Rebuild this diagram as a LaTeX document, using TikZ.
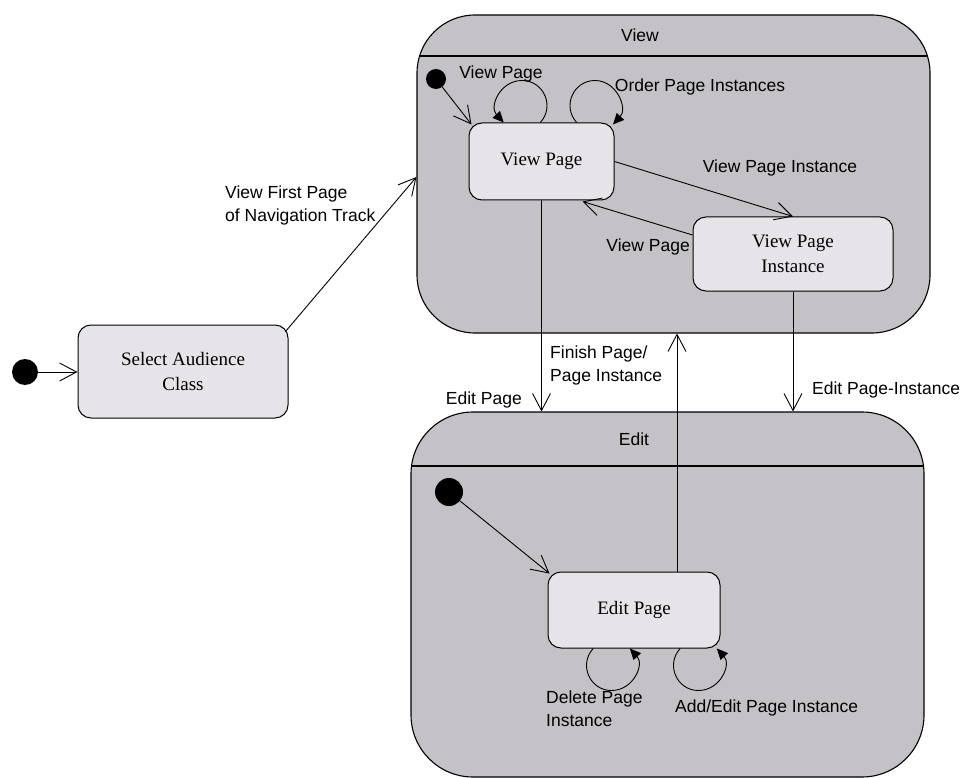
\documentclass[tikz,border=0pt]{standalone}
\usepackage{fontspec}
\setmainfont{Liberation Sans}
\newfontfamily\statefont{Liberation Serif}
\usetikzlibrary{arrows.meta,calc}
\definecolor{regionfill}{RGB}{196,194,198}
\definecolor{statefill}{RGB}{231,228,233}
\begin{document}
\begin{tikzpicture}[x=1pt,y=-1pt,
  region/.style={draw, line width=1.1pt, fill=regionfill, rounded corners=58pt, inner sep=0pt},
  stbox/.style={draw, line width=1pt, fill=statefill, rounded corners=13pt,
    font=\statefont\fontsize{19}{25}\selectfont, align=center, inner sep=0pt},
  initdot/.style={circle, fill=black, inner sep=0pt},
  trans/.style={line width=0.9pt, -{Straight Barb[length=17pt,width=18pt]}},
  selfloop/.style={line width=0.9pt, -{Triangle[length=11pt,width=10pt]}},
  lbl/.style={font=\fontsize{17.5}{23}\selectfont, inner sep=0pt, align=left},
  divider/.style={line width=1.1pt},
]
\useasboundingbox (0,0) rectangle (964,778);
\fill[white] (0,0) rectangle (964,778);

% composite states
\node[region, minimum width=513pt, minimum height=318pt] (viewst) at (673.5,174) {};
\node[region, minimum width=513pt, minimum height=365pt, rounded corners=62pt] (editst) at (667.5,594.5) {};
\draw[divider] ($(viewst.west |- 0,56)+(3,0)$) -- ($(viewst.east |- 0,56)+(-3,0)$);
\draw[divider] ($(editst.west |- 0,466)+(1,0)$) -- ($(editst.east |- 0,466)+(-1,0)$);
\node[lbl] (viewtitle) at (640,35) {View};
\node[lbl] (edittitle) at (634,439) {Edit};

% initial pseudo-states
\node[initdot, minimum size=26pt] (init0) at (25,372) {};
\node[initdot, minimum size=20pt] (initv) at (436,79) {};
\node[initdot, minimum size=28pt] (inite) at (449,492) {};

% simple states
\node[stbox, minimum width=210pt, minimum height=93pt] (sac) at (183,371.5) {Select Audience\\Class};
\node[stbox, minimum width=145pt, minimum height=77pt] (vp) at (541.5,161.5) {View Page};
\node[stbox, minimum width=200pt, minimum height=74pt] (vpi) at (793,254) {View Page\\Instance};
\node[stbox, minimum width=172pt, minimum height=76pt] (ep) at (634,610) {Edit Page};

% transitions outside the composite states
\draw[trans] (init0.east) -- (sac.west |- init0);
\draw[trans] ($(sac.north east)+(-3,7)$) -- ($(viewst.west)+(0,3)$);
\node[lbl, anchor=west] (lfirst) at (225,205) {View First Page\\of Navigation Track};

% inside View
\draw[trans] (initv) -- ($(vp.north west)+(3,2)$);

% self loops: two cubic pieces approximating a circle of radius 25
\coordinate (vpLoopAout) at ($(vp.north)+(-1.2,0)$);
\coordinate (vpLoopAtop) at ($(vp.north)+(-19.5,-42)$);
\coordinate (vpLoopAin) at ($(vp.north)+(-37.8,0)$);
\draw[selfloop] (vpLoopAout) .. controls +(14.8,-16) and +(21.8,0) .. (vpLoopAtop)
  .. controls +(-21.8,0) and +(-14.8,-16) .. (vpLoopAin);
\node[lbl] (lvp1) at (501,74) {View Page};

\coordinate (vpLoopBout) at ($(vp.north)+(35.2,0)$);
\coordinate (vpLoopBtop) at ($(vp.north)+(53.5,-42)$);
\coordinate (vpLoopBin) at ($(vp.north)+(71.5,2)$);
\draw[selfloop] (vpLoopBout) .. controls +(-14.8,-16) and +(-21.8,0) .. (vpLoopBtop)
  .. controls +(21.8,0) and +(14.8,-16) .. (vpLoopBin);
\node[lbl] (lorder) at (700,87) {Order Page Instances};

\draw[trans] (vp.east) -- (vpi.north);
\node[lbl] (lvpi) at (780,168) {View Page Instance};

\draw[trans] ($(vpi.west)+(0,-19)$) -- ($(vp.south east)+(-32,1)$);
\node[lbl, anchor=east] (lvpback) at (690,247) {View Page};

% between View and Edit
\draw[trans] (vp.south) -- (vp.south |- editst.north);
\node[lbl, anchor=east] (ledp) at (522,400) {Edit Page};

\draw[trans] (vpi.south) -- (vpi.south |- editst.north);
\node[lbl, anchor=west] (ledpi) at (812,390) {Edit Page-Instance};

\coordinate (epTop) at ($(ep.north)+(43,0)$);
\draw[trans] (epTop) -- (epTop |- viewst.south);
\node[lbl, anchor=west] (lfinish) at (550,365.5) {Finish Page/\\Page Instance};

% inside Edit
\draw[trans] (inite) -- ($(ep.north west)+(2,2)$);

\coordinate (epLoopAout) at ($(ep.south)+(-40.8,0)$);
\coordinate (epLoopAbot) at ($(ep.south)+(-22.5,42)$);
\coordinate (epLoopAin) at ($(ep.south)+(-4.2,0)$);
\draw[selfloop] (epLoopAout) .. controls +(-14.8,16) and +(-21.8,0) .. (epLoopAbot)
  .. controls +(21.8,0) and +(14.8,16) .. (epLoopAin);
\node[lbl, anchor=west] (ldel) at (546,708.5) {Delete Page\\Instance};

\coordinate (epLoopBout) at ($(ep.south)+(46.2,0)$);
\coordinate (epLoopBbot) at ($(ep.south)+(64.5,42)$);
\coordinate (epLoopBin) at ($(ep.south)+(82.8,0)$);
\draw[selfloop] (epLoopBout) .. controls +(-14.8,16) and +(-21.8,0) .. (epLoopBbot)
  .. controls +(21.8,0) and +(14.8,16) .. (epLoopBin);
\node[lbl, anchor=west] (ladd) at (675,708) {Add/Edit Page Instance};
\end{tikzpicture}
\end{document}
